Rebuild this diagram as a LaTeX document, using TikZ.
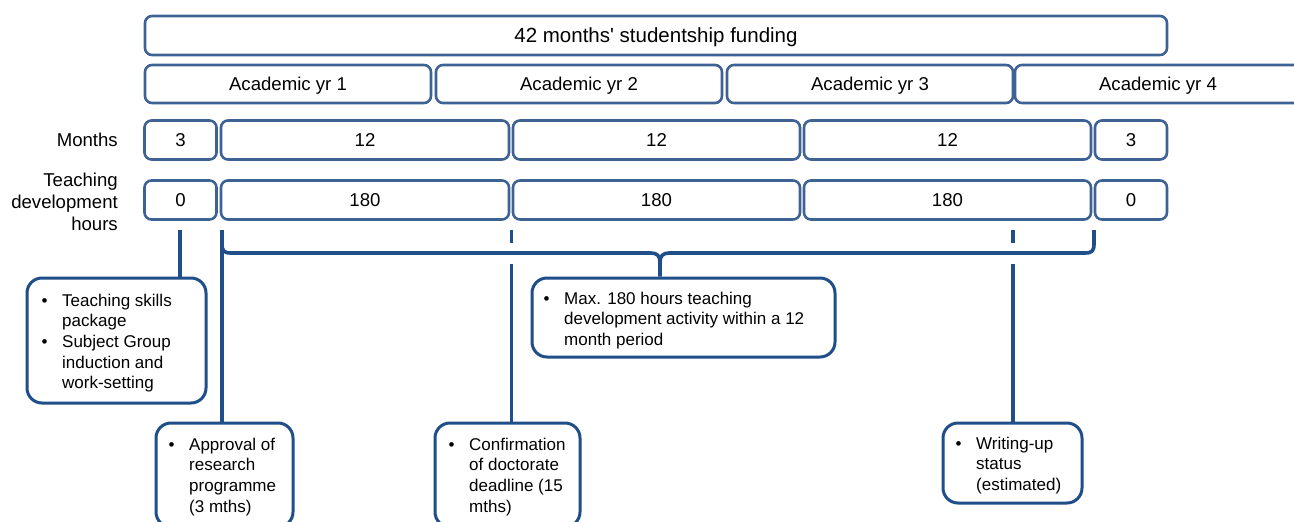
\documentclass[tikz,border=0pt]{standalone}
\usepackage{fontspec}
\setmainfont{Liberation Sans}
\definecolor{boxblue}{RGB}{62,98,148}
\definecolor{lineblue}{RGB}{31,78,137}
\newcommand{\bulletmark}{\makebox[20.5pt][l]{\textbullet}}
\begin{document}
\begin{tikzpicture}[x=1pt,y=-1pt,
  tbox/.style={draw=boxblue, line width=2.6pt, rounded corners=7pt, fill=white, inner sep=0pt},
  lbl/.style={font=\fontsize{18.6}{22}\selectfont, text height=13.3pt, text depth=0pt},
  yrbox/.style={tbox, lbl, minimum width=286pt, minimum height=38pt},
  rowbox/.style={tbox, lbl, minimum height=39pt},
  bbox/.style={draw=lineblue, line width=3pt, rounded corners=15pt, fill=white, inner sep=0pt},
  btxt/.style={font=\fontsize{17}{20.7}\selectfont, inner sep=0pt, anchor=north west},
  conn/.style={draw=lineblue, line width=3.6pt, line join=round}
]
\clip (0,0) rectangle (1294,522);
\fill[white] (0,0) rectangle (1294,522);

% top
\node[tbox, minimum width=1022pt, minimum height=39pt, font=\fontsize{20.5}{24}\selectfont, text height=14.7pt, text depth=0pt] (fund) at (656,35.5) {42 months\textquotesingle{} studentship funding};

\node[yrbox] (yr1) at (288,84) {Academic yr 1};
\node[yrbox] (yr2) at (579,84) {Academic yr 2};
\node[yrbox] (yr3) at (870,84) {Academic yr 3};
\node[yrbox] (yr4) at (1158,84) {Academic yr 4};

% months row
\node[lbl, anchor=east, inner sep=0pt] (mlab) at (118,140) {Months};
\node[rowbox, minimum width=72pt] (m1) at (180.5,140) {3};
\node[rowbox, minimum width=288pt] (m2) at (365,140) {12};
\node[rowbox, minimum width=287pt] (m3) at (656.5,140) {12};
\node[rowbox, minimum width=287pt] (m4) at (947.5,140) {12};
\node[rowbox, minimum width=72pt] (m5) at (1131,140) {3};

% teaching row
\node[font=\fontsize{18.6}{22}\selectfont, align=right, anchor=east, inner sep=0pt] (tlab) at (118,202) {Teaching\\development\\hours};
\node[rowbox, minimum width=72pt] (t1) at (180.5,200) {0};
\node[rowbox, minimum width=288pt] (t2) at (365,200) {180};
\node[rowbox, minimum width=287pt] (t3) at (656.5,200) {180};
\node[rowbox, minimum width=287pt] (t4) at (947.5,200) {180};
\node[rowbox, minimum width=72pt] (t5) at (1131,200) {0};

% bullet boxes
\node[bbox, minimum width=179pt, minimum height=125pt] (skills) at (116.5,340.5) {};
\node[btxt] (skillsT) at (41.5,291.5) {\begin{tabular}{@{}l@{}l@{}}\bulletmark & Teaching skills\\ & package\\ \bulletmark & Subject Group\\ & induction and\\ & work-setting\end{tabular}};

\node[bbox, minimum width=303pt, minimum height=79pt] (maxb) at (683.5,317.5) {};
\node[btxt] (maxT) at (543.5,289.5) {\begin{tabular}{@{}l@{}l@{}}\bulletmark & Max. 180 hours teaching\\ & development activity within a 12\\ & month period\end{tabular}};

\node[bbox, minimum width=137pt, minimum height=104pt] (appr) at (224.5,475) {};
\node[btxt] (apprT) at (168.5,435.5) {\begin{tabular}{@{}l@{}l@{}}\bulletmark & Approval of\\ & research\\ & programme\\ & (3 mths)\end{tabular}};

\node[bbox, minimum width=145pt, minimum height=104pt] (conf) at (507.5,475) {};
\node[btxt] (confT) at (448.5,435.5) {\begin{tabular}{@{}l@{}l@{}}\bulletmark & Confirmation\\ & of doctorate\\ & deadline (15\\ & mths)\end{tabular}};

\node[bbox, minimum width=139pt, minimum height=80pt] (writ) at (1012.5,463) {};
\node[btxt] (writT) at (955.5,434.5) {\begin{tabular}{@{}l@{}l@{}}\bulletmark & Writing-up\\ & status\\ & (estimated)\end{tabular}};

% connectors
\coordinate (v0) at (180,230);
\draw[conn] (v0) -- (v0 |- skills.north);

\coordinate (bL) at (222,230);
\coordinate (bR) at (1094,230);
\coordinate (tip) at (660,262);
\draw[conn] (bL) -- (bL |- appr.north);
\draw[conn] (bL) -- (222,244) .. controls (222,251) and (224,253) .. (231,253) -- (651,253) .. controls (657,253) and (660,256) .. (tip) -- (tip |- maxb.north);
\draw[conn] (bR) -- (1094,244) .. controls (1094,251) and (1092,253) .. (1085,253) -- (669,253) .. controls (663,253) and (660,256) .. (tip);

\coordinate (v2a) at (511.5,230);
\coordinate (v2b) at (511.5,243);
\coordinate (v2c) at (511.5,264);
\draw[conn] (v2a) -- (v2b);
\draw[conn] (v2c) -- (v2c |- conf.north);

\coordinate (v3a) at (1013,230);
\coordinate (v3b) at (1013,243);
\coordinate (v3c) at (1013,264);
\draw[conn] (v3a) -- (v3b);
\draw[conn] (v3c) -- (v3c |- writ.north);
\end{tikzpicture}
\end{document}
